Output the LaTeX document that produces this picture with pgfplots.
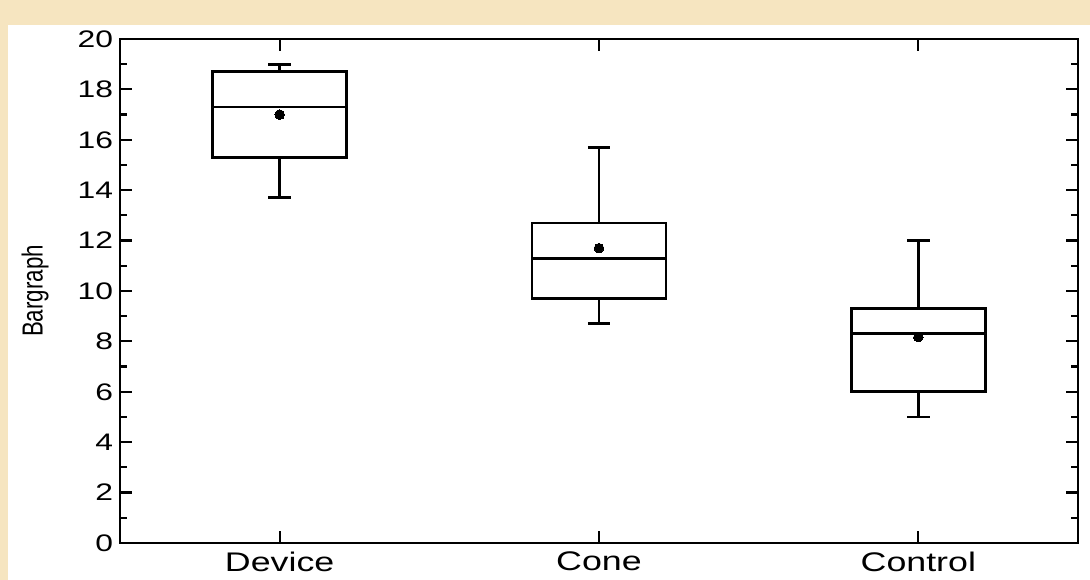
\documentclass[border=0pt]{standalone}
\usepackage{graphicx}
\usepackage{pgfplots}
\pgfplotsset{compat=1.18}
\usepgfplotslibrary{statistics}
\usepackage{fontspec}
\setmainfont{Liberation Sans}
\newfontfamily\widefont{Liberation Sans}[FakeStretch=1.33]
\definecolor{parch}{HTML}{F6E5C0}
\begin{document}
\begin{tikzpicture}
\path[use as bounding box] (0,0) rectangle (545bp,290bp);
\fill[parch] (0,0) rectangle (545bp,290bp);
\fill[white] (4bp,0) rectangle (545bp,277.5bp);
\begin{axis}[
  at={(60bp,18.5bp)}, anchor=south west,
  scale only axis, width=479bp, height=252bp,
  xmin=-0.5, xmax=2.5, ymin=0, ymax=20,
  xtick={0,1,2}, xticklabels={Device,Cone,Control},
  ytick={0,2,...,20}, minor y tick num=1,
  tick align=inside,
  major tick length=6bp, minor tick length=3.5bp,
  every tick/.style={black, line width=1.1bp},
  axis line style={line width=1.4bp},
  /pgf/number format/assume math mode=true,
  yticklabel style={font=\widefont\fontsize{12}{14}\selectfont},
  xticklabel style={font=\widefont\fontsize{13.5}{15}\selectfont, yshift=-1bp},
  ylabel={\scalebox{1}[1.3]{Bargraph}},
  ylabel style={at={(axis description cs:-0.0887,0.5)}, anchor=center, font=\fontsize{11.2}{14}\selectfont},
  boxplot/draw direction=y,
  boxplot/box extend=0.42,
  boxplot/whisker extend=0.07,
]
\addplot[black, line width=1.4bp, fill=white, mark=*, mark size=2.4bp, mark options={fill=black, line width=0pt},
  boxplot prepared={draw position=0, lower whisker=13.7, lower quartile=15.3,
  median=17.3, upper quartile=18.7, upper whisker=19.0}] table[row sep=\\, y index=0] {mean\\ 17.0\\};
\addplot[black, line width=1.4bp, fill=white, mark=*, mark size=2.4bp, mark options={fill=black, line width=0pt},
  boxplot prepared={draw position=1, lower whisker=8.7, lower quartile=9.7,
  median=11.3, upper quartile=12.7, upper whisker=15.7}] table[row sep=\\, y index=0] {mean\\ 11.7\\};
\addplot[black, line width=1.4bp, fill=white, mark=*, mark size=2.4bp, mark options={fill=black, line width=0pt},
  boxplot prepared={draw position=2, lower whisker=5.0, lower quartile=6.0,
  median=8.3, upper quartile=9.3, upper whisker=12.0}] table[row sep=\\, y index=0] {mean\\ 8.17\\};
\end{axis}
\end{tikzpicture}
\end{document}
